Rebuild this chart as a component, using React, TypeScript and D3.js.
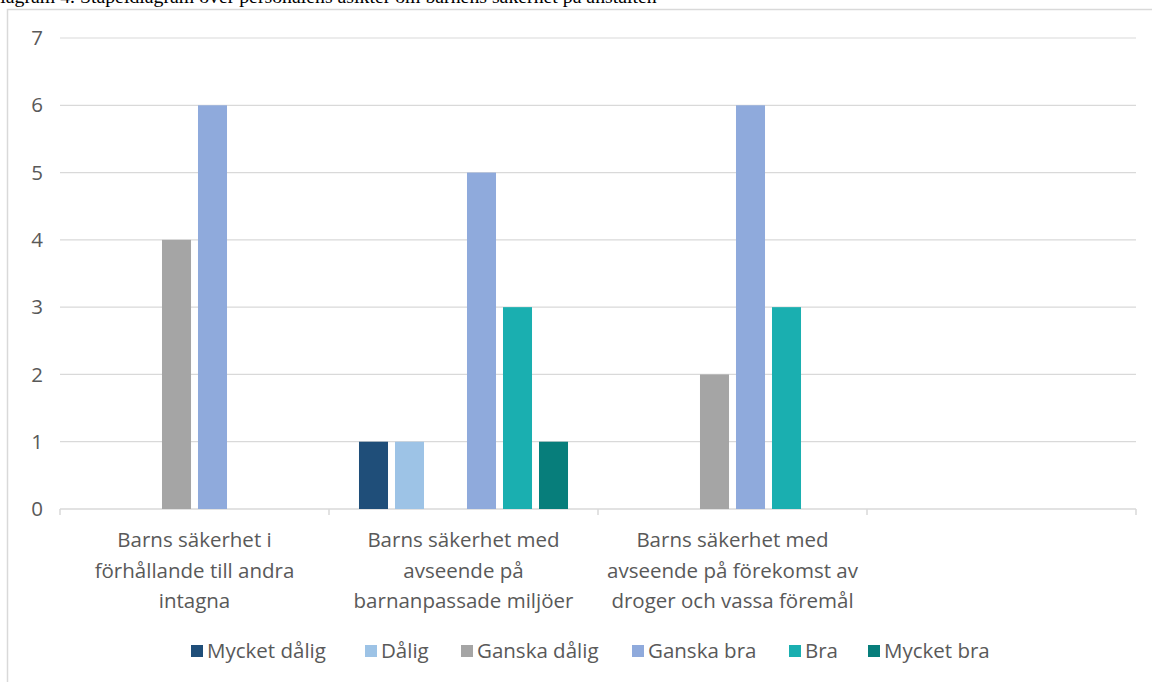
import React from "react";
import * as d3 from "d3";

const TITLE = "Diagram 4. Stapeldiagram över personalens åsikter om barnens säkerhet på anstalten";
const categories: string[][] = [
  ["Barns säkerhet i", "förhållande till andra", "intagna"],
  ["Barns säkerhet med", "avseende på", "barnanpassade miljöer"],
  ["Barns säkerhet med", "avseende på förekomst av", "droger och vassa föremål"],
  [],
];
const seriesNames = ["Mycket dålig", "Dålig", "Ganska dålig", "Ganska bra", "Bra", "Mycket bra"];
const seriesColors = ["#1F4E79", "#9DC3E6", "#A5A5A5", "#8FAADC", "#1AAFB0", "#077E7B"];
const mycketDalig = [0, 1, 0, 0];
const dalig = [0, 1, 0, 0];
const ganskaDalig = [4, 0, 2, 0];
const ganskaBra = [6, 5, 6, 0];
const bra = [0, 3, 3, 0];
const mycketBra = [0, 1, 0, 0];
const seriesValues = [mycketDalig, dalig, ganskaDalig, ganskaBra, bra, mycketBra];
const yTicks = [0, 1, 2, 3, 4, 5, 6, 7];

const FONT = "'Open Sans', Lato, sans-serif";
const TEXT = "#595959";
const GRID = "#D9D9D9";
const FS = 20.5;

export default function App() {
  const W = 1152, H = 682;
  const left = 60, right = 1136, top = 38, bottom = 509;
  const x0 = d3.scaleBand<number>().domain(categories.map((_, i) => i)).range([left, right]).padding(0);
  const x1 = d3.scaleBand<number>().domain(seriesNames.map((_, i) => i)).range([0, x0.bandwidth()])
    .paddingInner(0.194).paddingOuter(0.833);
  const y = d3.scaleLinear().domain([0, 7]).range([bottom, top]);

  // legend layout (estimated label widths)
  const legendY = 651;
  const legendWidths = [126, 48, 123, 109, 31, 111];
  const sq = 12, textOff = 16, legendGap = 32;
  const totalLegend = d3.sum(legendWidths) + legendWidths.length * textOff + legendGap * (legendWidths.length - 1);
  let lx = (left + right) / 2 - totalLegend / 2 - 5;
  const legendX: number[] = [];
  legendWidths.forEach((w) => { legendX.push(lx); lx += textOff + w + legendGap; });

  return (
    <svg width={W} height={H} style={{ position: "absolute", left: 0, top: 0, background: "#fff" }}>
      <text x={-14} y={3} fontFamily="'Liberation Serif', 'Times New Roman', serif" fontSize={19.8} fill="#000">{TITLE}</text>
      <rect x={7.5} y={9.5} width={W} height={H} fill="none" stroke={GRID} strokeWidth={1.5} />
      {yTicks.map((t) => (
        <g key={t}>
          <line x1={left} x2={right} y1={y(t)} y2={y(t)} stroke={GRID} strokeWidth={t === 0 ? 1.5 : 1.2} />
          <text x={43} y={y(t)} dy="0.35em" textAnchor="end" fontFamily={FONT} fontSize={FS} fill={TEXT}>{t}</text>
        </g>
      ))}
      {[...categories.map((_, i) => x0(i)!), right].map((xv, i) => (
        <line key={"tk" + i} x1={xv} x2={xv} y1={bottom} y2={bottom + 6} stroke={GRID} strokeWidth={1.5} />
      ))}
      {seriesValues.map((vals, s) => (
        <g key={"s" + s} fill={seriesColors[s]}>
          {vals.map((v, c) => v > 0 ? (
            <rect key={c} x={x0(c)! + x1(s)!} y={y(v)} width={x1.bandwidth()} height={y(0) - y(v)} />
          ) : null)}
        </g>
      ))}
      {categories.map((lines, c) => (
        <text key={"c" + c} x={x0(c)! + x0.bandwidth() / 2} textAnchor="middle" fontFamily={FONT} fontSize={FS} fill={TEXT}>
          {lines.map((l, i) => (
            <tspan key={i} x={x0(c)! + x0.bandwidth() / 2} y={547 + i * 30.5}>{l}</tspan>
          ))}
        </text>
      ))}
      {seriesNames.map((n, i) => (
        <g key={"l" + i}>
          <rect x={legendX[i]} y={legendY - 6} width={sq} height={sq} fill={seriesColors[i]} />
          <text x={legendX[i] + textOff} y={legendY} dy="0.35em" fontFamily={FONT} fontSize={FS} fill={TEXT}>{n}</text>
        </g>
      ))}
    </svg>
  );
}
